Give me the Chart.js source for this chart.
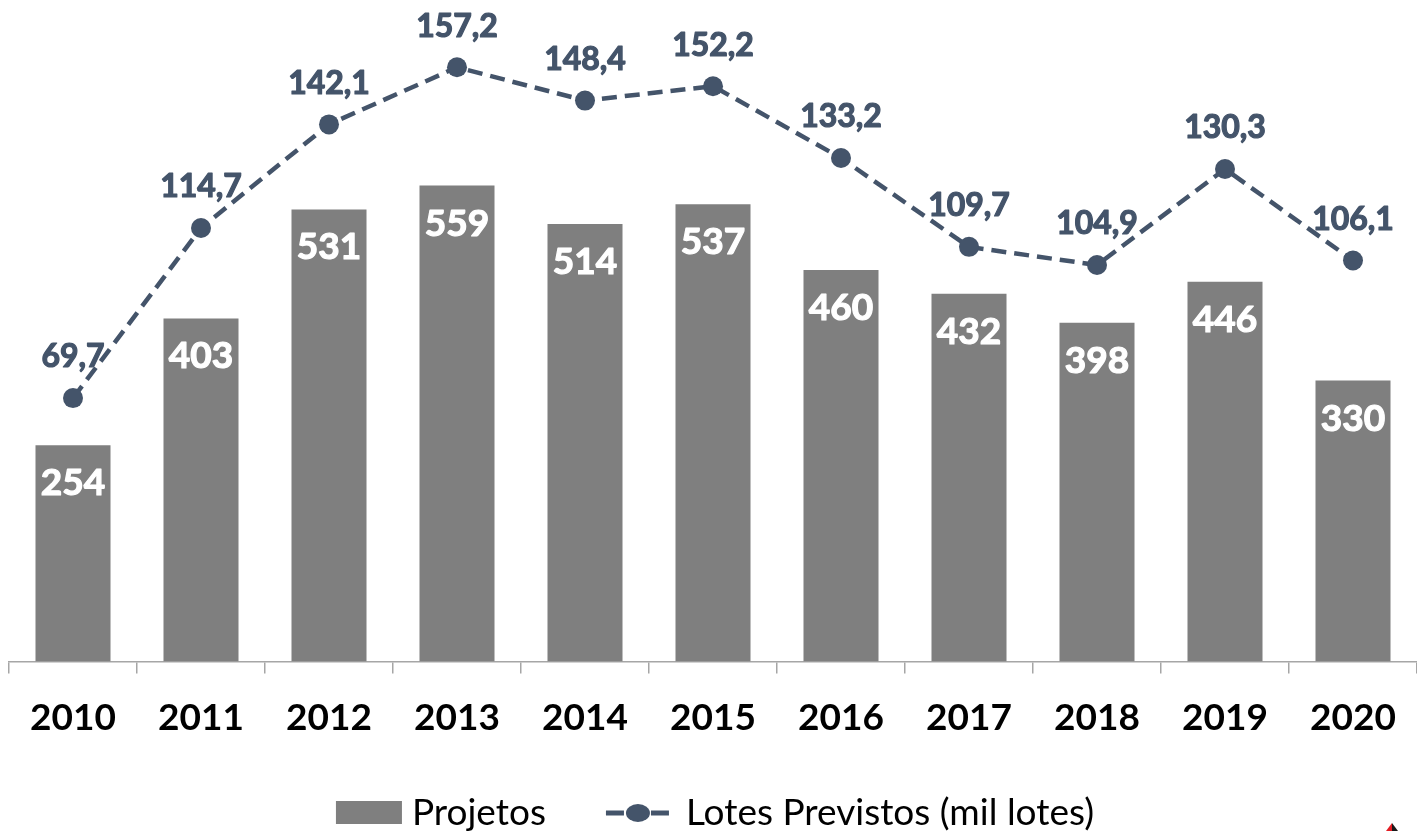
<!DOCTYPE html>
<html>
<head>
<meta charset="utf-8">
<script src="https://cdn.jsdelivr.net/npm/chart.js@4"></script>
<style>
    html, body { margin: 0; padding: 0; background: #ffffff; }
    #wrap { width: 1417px; height: 831px; }
</style>
</head>
<body>
<div id="wrap"><canvas id="chart-lotes" width="1417" height="831"></canvas></div>
<script>
const years = ['2010', '2011', '2012', '2013', '2014', '2015', '2016', '2017', '2018', '2019', '2020']
const projetos = [254, 403, 531, 559, 514, 537, 460, 432, 398, 446, 330]
const lotesPrevistos = [69.7, 114.7, 142.1, 157.2, 148.4, 152.2, 133.2, 109.7, 104.9, 130.3, 106.1]

const barColor = '#7f7f7f'
const lineColor = '#44546a'
const fontFamily = 'Lato, "Open Sans", sans-serif'

const formatPt = v => v.toFixed(1).replace('.', ',')

// heavier bold: fill plus a thin outline in the same colour
function heavyText(ctx, text, x, y, color) {
    ctx.fillStyle = color
    ctx.strokeStyle = color
    ctx.lineWidth = 1.2
    ctx.lineJoin = 'round'
    ctx.fillText(text, x, y)
    ctx.strokeText(text, x, y)
}

// value labels: white inside the top of each bar, slate above each point
const valueLabels = {
    id: 'valueLabels',
    afterDatasetsDraw(chart) {
        const ctx = chart.ctx
        ctx.save()
        ctx.textAlign = 'center'
        ctx.textBaseline = 'middle'
        ctx.font = `bold 37px ${fontFamily}`
        chart.getDatasetMeta(0).data.forEach((bar, i) => {
            heavyText(ctx, String(projetos[i]), bar.x, bar.y + 38, '#ffffff')
        })
        ctx.font = `bold 32px ${fontFamily}`
        chart.getDatasetMeta(1).data.forEach((pt, i) => {
            heavyText(ctx, formatPt(lotesPrevistos[i]), pt.x, pt.y - 41, lineColor)
        })
        ctx.restore()
    }
}

// legend row under the axis, plus the small corner mark
const bottomLegend = {
    id: 'bottomLegend',
    afterDraw(chart) {
        const ctx = chart.ctx
        const sets = chart.data.datasets
        ctx.save()
        ctx.font = `37px ${fontFamily}`
        ctx.textBaseline = 'middle'
        const w1 = ctx.measureText(sets[0].label).width
        const w2 = ctx.measureText(sets[1].label).width
        const total = 66 + 10 + w1 + 60 + 63 + 17 + w2
        let x = 713 - total / 2 + 2
        const y = 813

        ctx.fillStyle = barColor
        ctx.fillRect(x, y - 12, 66, 23)
        x += 76
        ctx.fillStyle = '#000000'
        ctx.fillText(sets[0].label, x, y)
        x += w1 + 60

        ctx.strokeStyle = lineColor
        ctx.lineWidth = 5
        ctx.beginPath()
        ctx.moveTo(x, y); ctx.lineTo(x + 18, y)
        ctx.moveTo(x + 45, y); ctx.lineTo(x + 63, y)
        ctx.stroke()
        ctx.fillStyle = lineColor
        ctx.beginPath()
        ctx.ellipse(x + 32, y, 12, 9, 0, 0, Math.PI * 2)
        ctx.fill()
        x += 63 + 17
        ctx.fillStyle = '#000000'
        ctx.fillText(sets[1].label, x, y)

        ctx.fillStyle = '#e31e24'
        ctx.beginPath()
        ctx.moveTo(1392, 823); ctx.lineTo(1392, 831); ctx.lineTo(1386, 831)
        ctx.fill()
        ctx.fillStyle = '#1a1a1a'
        ctx.beginPath()
        ctx.moveTo(1392, 823); ctx.lineTo(1398, 831); ctx.lineTo(1392, 831)
        ctx.fill()
        ctx.restore()
    }
}

new Chart('chart-lotes', {
    data: {
        labels: years,
        datasets: [{
            type: 'bar',
            label: 'Projetos',
            data: projetos,
            backgroundColor: barColor,
            yAxisID: 'yBar',
            categoryPercentage: 1,
            barPercentage: 0.586,
            order: 2
        }, {
            type: 'line',
            label: 'Lotes Previstos (mil lotes)',
            data: lotesPrevistos,
            borderColor: lineColor,
            backgroundColor: lineColor,
            borderWidth: 4.5,
            borderDash: [15, 8],
            pointRadius: 10,
            pointHoverRadius: 10,
            pointBackgroundColor: lineColor,
            pointBorderWidth: 0,
            tension: 0,
            yAxisID: 'yLine',
            order: 1
        }]
    },
    options: {
        responsive: false,
        animation: false,
        layout: {autoPadding: false, padding: {left: 9, right: 0, top: 0, bottom: 69}},
        plugins: {
            legend: {display: false},
            tooltip: {enabled: false}
        },
        scales: {
            x: {
                offset: true,
                // last label sits inside its own slot, so no extra room on the sides
                afterFit: scale => { scale.paddingRight = 0; scale.paddingLeft = 0 },
                border: {display: true, color: '#a6a6a6', width: 1.5},
                grid: {
                    offset: true,
                    drawOnChartArea: false,
                    drawTicks: true,
                    tickLength: 12,
                    color: '#a6a6a6',
                    lineWidth: 1.5
                },
                ticks: {
                    color: '#000000',
                    padding: 22,
                    font: {family: fontFamily, size: 37, weight: 'bold'}
                }
            },
            yBar: {display: false, min: 0, max: 777},
            yLine: {display: false, min: 0, max: 175}
        }
    },
    plugins: [valueLabels, bottomLegend]
})
</script>
</body>
</html>
